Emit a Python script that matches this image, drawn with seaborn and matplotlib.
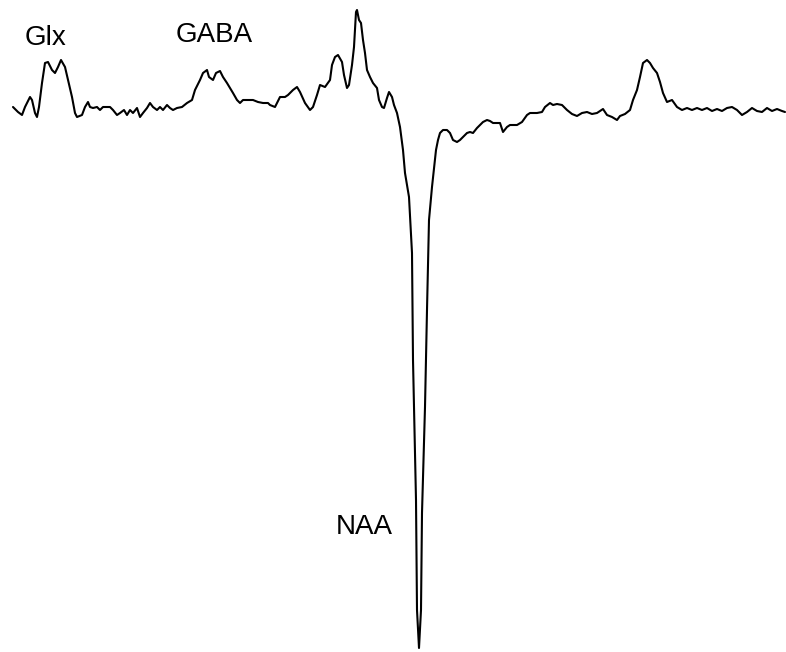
import pandas as pd
import seaborn as sns
import matplotlib.pyplot as plt

# trace (x position, vertical reading; larger = lower)
pos = [13, 18, 22, 25, 30, 32, 35, 37, 39, 42, 45, 48, 52, 55, 58, 61, 65, 68, 72, 75,
       77, 82, 85, 88, 90, 93, 97, 100, 103, 107, 110, 113, 117, 120, 124, 127, 130, 133, 137, 140,
       143, 147, 150, 153, 157, 160, 163, 167, 170, 173, 177, 182, 187, 192, 195, 200, 203, 207, 209, 213,
       216, 220, 223, 227, 230, 233, 237, 240, 243, 248, 253, 258, 263, 268, 270, 275, 280, 285, 288, 293,
       297, 300, 305, 310, 313, 317, 320, 325, 330, 332, 335, 338, 342, 344, 347, 349, 352, 354, 356, 357,
       359, 361, 363, 365, 367, 370, 373, 377, 379, 382, 384, 387, 389, 392, 394, 397, 400, 403, 405, 409,
       412, 413, 416, 417, 419, 421, 422, 425, 427, 429, 432, 436, 438, 440, 443, 447, 450, 453, 457, 460,
       463, 467, 470, 473, 477, 480, 483, 487, 490, 493, 497, 500, 503, 507, 510, 517, 522, 527, 530, 537,
       542, 545, 550, 553, 557, 562, 567, 572, 577, 582, 587, 592, 597, 603, 607, 612, 617, 620, 625, 630,
       633, 637, 640, 643, 647, 650, 653, 657, 660, 663, 667, 672, 677, 682, 687, 692, 697, 702, 707, 712,
       717, 722, 727, 732, 737, 742, 747, 752, 757, 762, 767, 772, 777, 782, 785]
level = [107, 112, 115, 107, 97, 100, 113, 117, 107, 83, 63, 62, 70, 73, 67, 60, 67, 80, 97, 113,
         117, 115, 107, 102, 107, 108, 107, 110, 107, 107, 107, 110, 115, 113, 110, 115, 110, 113, 108, 117,
         113, 108, 103, 107, 110, 107, 110, 105, 108, 110, 108, 107, 103, 100, 90, 80, 73, 70, 77, 80,
         73, 71, 77, 83, 88, 93, 100, 103, 100, 100, 100, 102, 103, 103, 105, 107, 97, 97, 95, 90,
         87, 92, 103, 110, 107, 95, 85, 87, 80, 65, 57, 55, 62, 75, 88, 85, 65, 47, 12, 10,
         20, 23, 40, 53, 70, 77, 83, 88, 100, 107, 108, 98, 92, 97, 105, 113, 127, 150, 173, 197,
         253, 360, 500, 610, 648, 610, 513, 407, 310, 220, 187, 150, 140, 133, 130, 130, 133, 140, 142, 140,
         137, 133, 132, 133, 128, 125, 122, 120, 121, 123, 123, 123, 132, 127, 125, 125, 122, 115, 113, 113,
         112, 107, 103, 105, 104, 105, 110, 114, 116, 113, 112, 114, 113, 109, 115, 117, 120, 116, 114, 110,
         100, 90, 77, 63, 60, 63, 68, 73, 82, 93, 102, 100, 107, 110, 108, 110, 108, 110, 108, 111,
         109, 111, 108, 107, 110, 115, 112, 108, 111, 112, 108, 111, 109, 111, 112]

peak_names = ["Glx", "GABA", "NAA"]
peak_x = [46, 214, 364]
peak_y = [38, 35, 527]

df = pd.DataFrame({"pos": pos, "level": level})

sns.set_theme(style="white")
plt.rcParams['font.family'] = ['Liberation Sans', 'DejaVu Sans']

fig = plt.figure(figsize=(7.86, 6.52), dpi=100)
ax = fig.add_axes([0, 0, 1, 1])
sns.lineplot(data=df, x="pos", y="level", sort=False, estimator=None,
             color="black", linewidth=1.5, ax=ax)

for name, x, y in zip(peak_names, peak_x, peak_y):
    ax.text(x, y, name, fontsize=20, ha="center", va="center", color="black")

ax.set_xlim(0, 786)
ax.set_ylim(652, 0)
ax.set_axis_off()

plt.savefig("out.png", dpi=100)
plt.close()
